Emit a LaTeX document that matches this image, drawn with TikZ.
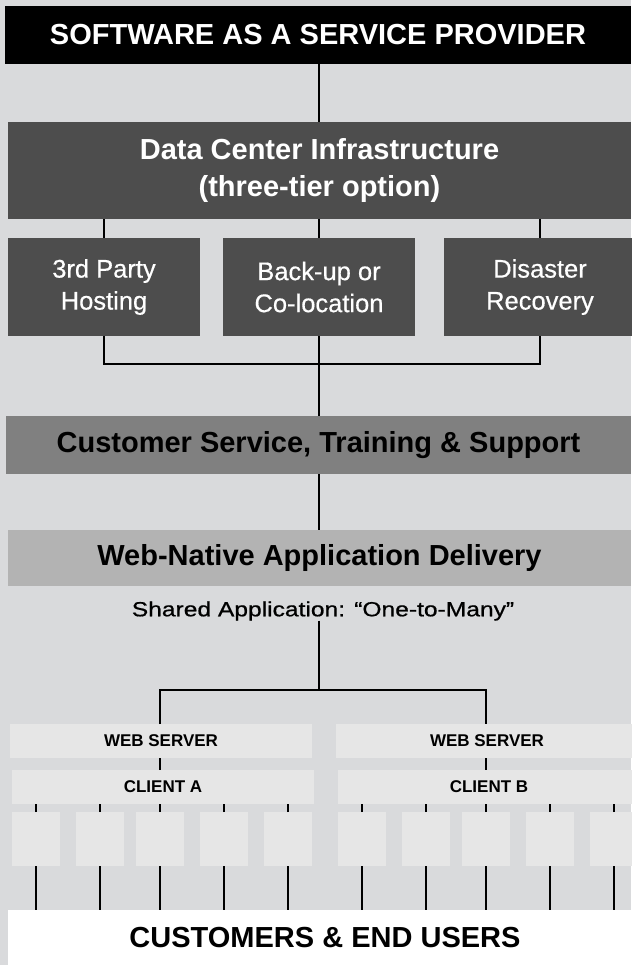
\documentclass[tikz,border=0pt]{standalone}
\usepackage{fontspec}
\setmainfont{Liberation Sans}
\newfontfamily\widefont[FakeStretch=1.2,FakeBold=0.7]{Liberation Sans}
\newfontfamily\midfont[FakeBold=0.5]{Liberation Sans}
\definecolor{paper}{HTML}{D9DADC}
\definecolor{darkbox}{HTML}{4D4D4D}
\definecolor{midbox}{HTML}{808080}
\definecolor{lightbox}{HTML}{B3B3B3}
\definecolor{palebox}{HTML}{E6E6E6}

\begin{document}
\begin{tikzpicture}[x=1pt,y=-1pt,
		every node/.style={rectangle, inner sep=0pt, outer sep=0pt, align=center},
		band/.style={minimum height=#1, font=\fontsize{29}{37}\selectfont\bfseries},
		site/.style={fill=darkbox, text=white, minimum width=192pt, minimum height=98pt,
			font=\midfont\fontsize{25.5}{32}\selectfont},
		tier/.style={fill=palebox, minimum width=302pt, minimum height=34pt,
			font=\fontsize{17}{20}\selectfont\bfseries},
		cell/.style={fill=palebox, minimum width=48pt, minimum height=54pt},
		wire/.style={line width=1.6pt}]
		\useasboundingbox (0,0) rectangle (631,965);
		\fill[paper] (0,0) rectangle (631,965);
		
		\node[band=58pt, fill=black, text=white, minimum width=626pt] (saas) at (318,35) {SOFTWARE AS A SERVICE PROVIDER};
		\node[band=97pt, fill=darkbox, text=white, minimum width=623pt] (dc) at (319.5,171) {Data Center Infrastructure\\(three-tier option)};
		\node[site] (hosting) at (104,287) {3rd Party\\Hosting};
		\node[site] (backup) at (319,287) {Back-up or\\Co-location};
		\node[site] (recovery) at (540,287) {Disaster\\Recovery};
		\node[band=58pt, fill=midbox, minimum width=625pt] (support) at (318.5,445) {Customer Service, Training \& Support};
		\node[band=56pt, fill=lightbox, minimum width=623pt] (delivery) at (319.5,558) {Web-Native Application Delivery};
		\node[font=\widefont\fontsize{20.5}{24}\selectfont] (shared) at (323,611) {Shared Application: “One-to-Many”};
		\node[tier] (serverA) at (161,741) {WEB SERVER};
		\node[tier] (serverB) at (487,741) {WEB SERVER};
		\node[tier] (clientA) at (163,787) {CLIENT A};
		\node[tier] (clientB) at (489,787) {CLIENT B};
		\node[band=56pt, fill=white, minimum width=634pt] (users) at (325,938) {CUSTOMERS \& END USERS};
		\coordinate (fork) at (319,364);
		\coordinate (split) at (319,690);
		
		\foreach \x [count=\i] in {36,100,160,224,288}
		{
			\node[cell] (userA\i) at (\x,839) {};
			\draw[wire] (userA\i.north) -- (userA\i.north |- clientA.south);
			\draw[wire] (userA\i.south) -- (userA\i.south |- users.north);
		}
		\foreach \x [count=\i] in {362,426,486,550,614}
		{
			\node[cell] (userB\i) at (\x,839) {};
			\draw[wire] (userB\i.north) -- (userB\i.north |- clientB.south);
			\draw[wire] (userB\i.south) -- (userB\i.south |- users.north);
		}
		
		\draw[wire] (saas.south -| fork) -- (dc.north -| fork);
		\draw[wire] (hosting.north) -- (hosting.north |- dc.south);
		\draw[wire] (backup.north) -- (backup.north |- dc.south);
		\draw[wire] (recovery.north) -- (recovery.north |- dc.south);
		\draw[wire] (hosting.south) |- (fork) -| (recovery.south);
		\draw[wire] (backup.south) -- (fork) -- (fork |- support.north);
		\draw[wire] (support.south -| fork) -- (delivery.north -| fork);
		\draw[wire] (shared.south -| split) -- (split);
		\draw[wire] (userA3.north |- serverA.north) |- (split) -| (userB3.north |- serverB.north);
		\draw[wire] (userA3.north |- serverA.south) -- (userA3.north |- clientA.north);
		\draw[wire] (userB3.north |- serverB.south) -- (userB3.north |- clientB.north);
\end{tikzpicture}
\end{document}
